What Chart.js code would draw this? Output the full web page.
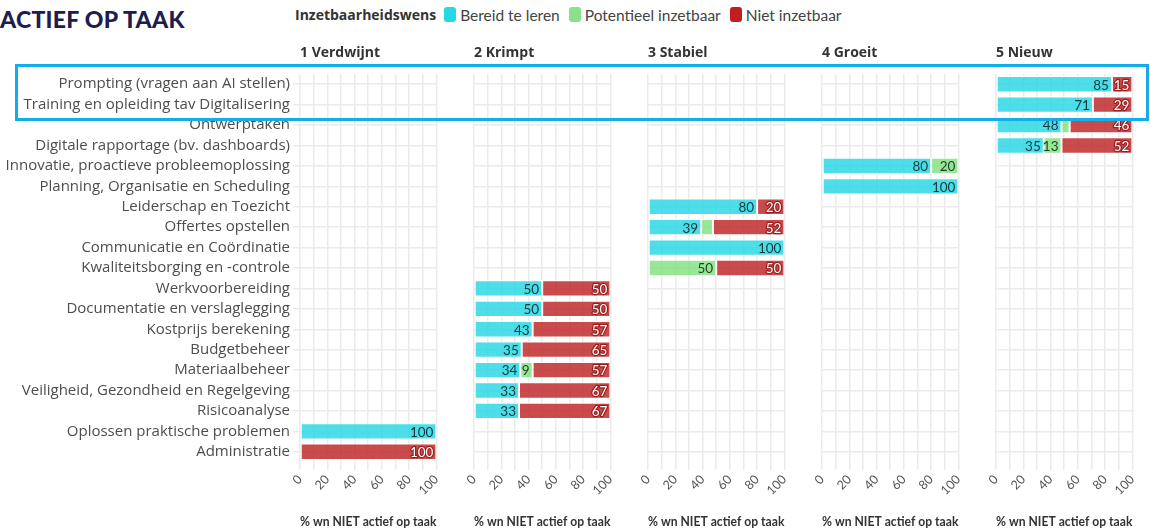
<!DOCTYPE html>
<html>
<head>
<meta charset="utf-8">
<script src="https://cdn.jsdelivr.net/npm/chart.js@4/dist/chart.umd.min.js"></script>
<style>
  body { margin: 0; background: #fff; font-family: Lato, "Open Sans", sans-serif; }
  #wrap { position: relative; width: 1150px; height: 531px; overflow: hidden; }
  .panel { position: absolute; top: 0; height: 531px; }
  #title { position: absolute; left: 0; top: 5px; font-size: 23px; font-weight: 900; color: #201c4e; letter-spacing: 0.3px; }
  #legend { position: absolute; left: 295px; top: 5px; font-size: 15.5px; color: #444; display: flex; align-items: center; }
  #legend b { font-family: "Open Sans", sans-serif; font-size: 14px; color: #333; margin-right: 8px; }
  #legend .sw { display: inline-block; width: 12px; height: 15px; border-radius: 3px; margin: 0 4px 0 0; }
  #legend .it { margin-right: 9px; }
  .ptitle { position: absolute; top: 42px; font-family: "Open Sans", sans-serif; font-size: 14px; font-weight: 700; color: #333; }
  #highlight { position: absolute; left: 15px; top: 64px; width: 1128px; height: 51px; border: 3px solid #12aeea; z-index: 5; }
</style>
</head>
<body>
<div id="wrap">
  <div id="title">ACTIEF OP TAAK</div>
  <div id="legend"></div>
  <div id="highlight"></div>
</div>
<script>
// rijen van boven naar onder
const categories = [
    "Prompting (vragen aan AI stellen)",
    "Training en opleiding tav Digitalisering",
    "Ontwerptaken",
    "Digitale rapportage (bv. dashboards)",
    "Innovatie, proactieve probleemoplossing",
    "Planning, Organisatie en Scheduling",
    "Leiderschap en Toezicht",
    "Offertes opstellen",
    "Communicatie en Coördinatie",
    "Kwaliteitsborging en -controle",
    "Werkvoorbereiding",
    "Documentatie en verslaglegging",
    "Kostprijs berekening",
    "Budgetbeheer",
    "Materiaalbeheer",
    "Veiligheid, Gezondheid en Regelgeving",
    "Risicoanalyse",
    "Oplossen praktische problemen",
    "Administratie"
];
const panelOf = [5, 5, 5, 5, 4, 4, 3, 3, 3, 3, 2, 2, 2, 2, 2, 2, 2, 1, 1];
const panelNames = ["1 Verdwijnt", "2 Krimpt", "3 Stabiel", "4 Groeit", "5 Nieuw"];

const legendTitle = "Inzetbaarheidswens";
const seriesNames = ["Bereid te leren", "Potentieel inzetbaar", "Niet inzetbaar"];
const bereid     = [85, 71, 48, 35, 80, 100, 80, 39, 100, 0, 50, 50, 43, 35, 34, 33, 33, 100, 0];
const potentieel = [0, 0, 6, 13, 20, 0, 0, 8.6, 0, 50, 0, 0, 0, 0, 9, 0, 0, 0, 0];
const niet       = [15, 29, 46, 52, 0, 0, 20, 52.4, 0, 50, 50, 50, 57, 65, 57, 67, 67, 0, 100];
const xTicks = [0, 20, 40, 60, 80, 100];
const xTitle = "% wn NIET actief op taak";

const barColors = ["rgba(38, 215, 228, 0.82)", "rgba(125, 225, 125, 0.8)", "rgba(190, 35, 35, 0.82)"];
const swatchColors = ["#26d7e4", "#8ae18a", "#c21e1e"];
const textColors = ["#17393e", "#24402a", "#ffffff"];
const haloColors = ["rgba(70, 222, 232, 0.9)", "rgba(150, 232, 150, 0.9)", "rgba(150, 25, 25, 0.9)"];

const panelLeft = [300, 474, 648, 822, 996];
const panelWidth = 137;
const pad = 12;
const gridColor = "#ebebeb";
const font = "Lato, 'Open Sans', sans-serif";

// legenda
const legend = document.getElementById("legend");
legend.innerHTML = "<b>" + legendTitle + "</b>" + seriesNames.map((n, i) =>
    `<span class="sw" style="background:${swatchColors[i]}"></span><span class="it">${n}</span>`).join("");

// labels in de balken
const barLabels = {
    id: "barLabels",
    afterDatasetsDraw(chart) {
        const ctx = chart.ctx;
        ctx.save();
        ctx.font = "13.5px " + font;
        ctx.textAlign = "right";
        ctx.textBaseline = "middle";
        ctx.lineJoin = "round";
        chart.data.datasets.forEach((ds, di) => {
            chart.getDatasetMeta(di).data.forEach((bar, i) => {
                const v = ds.data[i];
                if (v == null || v < 9) return;
                const txt = String(Math.round(v));
                const x = bar.x - 3, y = bar.y + 1;
                ctx.lineWidth = 2.5;
                ctx.strokeStyle = haloColors[di];
                ctx.strokeText(txt, x, y);
                ctx.fillStyle = textColors[di];
                ctx.fillText(txt, x, y);
            });
        });
        ctx.restore();
    }
};

const wrap = document.getElementById("wrap");
const seriesData = [bereid, potentieel, niet];

panelNames.forEach((name, p) => {
    const first = p === 0;
    const left = first ? 0 : panelLeft[p] - pad;
    const width = first ? panelLeft[0] + panelWidth + pad : panelWidth + 2 * pad;

    const holder = document.createElement("div");
    holder.className = "panel";
    holder.style.left = left + "px";
    holder.style.width = width + "px";
    const canvas = document.createElement("canvas");
    holder.appendChild(canvas);
    wrap.appendChild(holder);

    const t = document.createElement("div");
    t.className = "ptitle";
    t.style.left = panelLeft[p] + "px";
    t.textContent = name;
    wrap.appendChild(t);

    const datasets = seriesData.map((arr, s) => ({
        label: seriesNames[s],
        data: arr.map((v, i) => (panelOf[i] === p + 1 && v > 0) ? v : null),
        backgroundColor: barColors[s],
        borderColor: "#ffffff",
        borderWidth: 1,
        borderSkipped: false,
        barPercentage: 0.8,
        categoryPercentage: 1
    }));

    new Chart(canvas, {
        type: "bar",
        data: { labels: categories, datasets: datasets },
        plugins: [barLabels],
        options: {
            indexAxis: "y",
            responsive: true,
            maintainAspectRatio: false,
            animation: false,
            layout: { padding: { top: 74, bottom: 0, left: first ? 0 : pad, right: pad } },
            plugins: { legend: { display: false }, tooltip: { enabled: false } },
            scales: {
                x: {
                    stacked: true,
                    min: 0,
                    max: 100,
                    border: { display: false },
                    grid: { color: gridColor, lineWidth: 1.5, tickLength: 8 },
                    ticks: {
                        stepSize: 10,
                        autoSkip: false,
                        minRotation: 45,
                        maxRotation: 45,
                        padding: 2,
                        color: "#555",
                        font: { family: font, size: 12.5 },
                        callback: v => xTicks.includes(v) ? String(v) : ""
                    },
                    title: {
                        display: true,
                        text: xTitle,
                        color: "#333",
                        font: { family: font, size: 12.5, weight: "bold" },
                        padding: { top: 0, bottom: 2 }
                    },
                    afterFit: s => { s.height = 69; }
                },
                y: {
                    stacked: true,
                    border: { display: false },
                    grid: { color: gridColor, lineWidth: 1.5, offset: false, drawTicks: first, tickLength: 7 },
                    ticks: {
                        display: first,
                        padding: 3,
                        color: "#4d4d4d",
                        font: { family: "'Open Sans', sans-serif", size: 15 },
                        autoSkip: false
                    },
                    afterFit: s => { s.width = first ? panelLeft[0] : 0; }
                }
            }
        }
    });
});
</script>
</body>
</html>
